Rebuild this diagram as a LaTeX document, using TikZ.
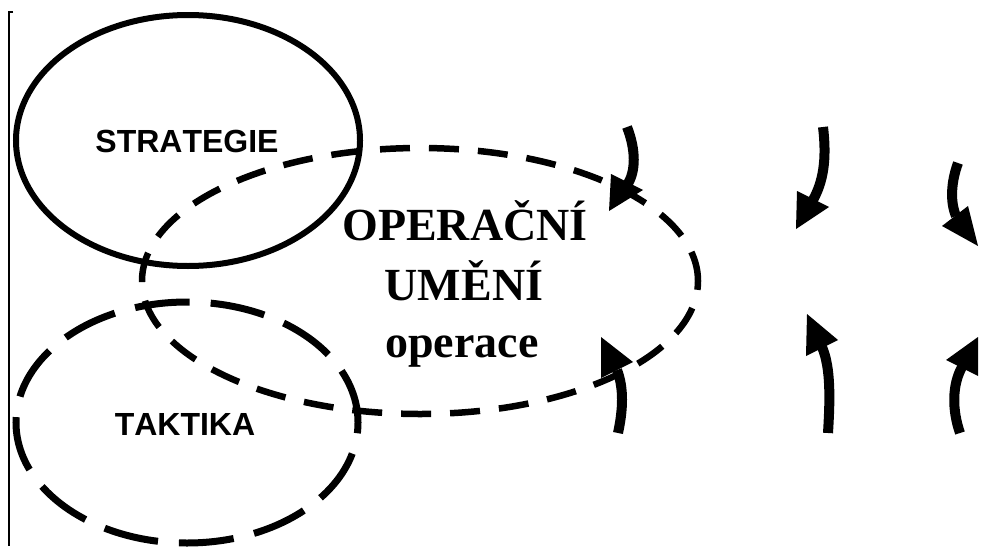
\documentclass[tikz,border=0pt]{standalone}
\usepackage{fontspec}
\setmainfont{Liberation Serif}
\setsansfont{Liberation Sans}[Kerning=Off]
\usetikzlibrary{shapes.geometric}
\begin{document}
\begin{tikzpicture}[x=1pt,y=-1pt,
  solidring/.style={draw, line width=6pt},
  dashring/.style={draw, line width=6.5pt, dash pattern=on 30pt off 19pt},
  longdash/.style={draw, line width=7pt, dash pattern=on 55pt off 21pt},
  sanslabel/.style={font=\sffamily\bfseries\fontsize{32}{40}\selectfont, inner sep=0pt},
  seriflabel/.style={font=\bfseries\fontsize{46}{55}\selectfont, inner sep=0pt, anchor=base},
  shaft/.style={line width=10pt},
  head/.style={fill=black},
  frameline/.style={line width=2.5pt}]
\useasboundingbox (0,0) rectangle (1003,546);
\fill[white] (0,0) rectangle (1003,546);

% left frame fragment
\coordinate (ftop) at (9,12);
\coordinate (fbot) at (9,546);
\coordinate (ftick) at (13,12);
\draw[frameline] (ftick) -- (ftop) -- (fbot);

% ellipses
\coordinate (sc) at (188,140.5);
\coordinate (tc) at (187,422.5);
\coordinate (oc) at (420,281);
\draw[solidring] (sc) ellipse [x radius=172pt, y radius=125.5pt];
\draw[longdash] (tc) ellipse [x radius=171pt, y radius=120.5pt];
\draw[dashring] (oc) ellipse [x radius=278pt, y radius=133pt];

% labels
\node[sanslabel] (strat) at (187,141) {STRATEGIE};
\node[sanslabel] (takt) at (185,424) {TAKTIKA};
\node[seriflabel] (op1) at (465,240) {OPERAČNÍ};
\node[seriflabel] (op2) at (464,300) {UMĚNÍ};
\node[seriflabel] (op3) at (462,357) {operace};

% top arrows (pointing down)
\coordinate (t1s) at (627,127);
\coordinate (t1e) at (627,185);
\draw[shaft] (t1s) .. controls (636,150) and (636,172) .. (t1e);
\fill[head] (611,174) -- (643,190) -- (609,211) -- cycle;

\coordinate (t2s) at (823,127);
\coordinate (t2e) at (813,200);
\draw[shaft] (t2s) .. controls (827,160) and (823,182) .. (t2e);
\fill[head] (797,191) -- (829,207) -- (796,229) -- cycle;

\coordinate (t3s) at (958,163);
\coordinate (t3e) at (956,216);
\draw[shaft] (t3s) .. controls (951,182) and (950,202) .. (t3e);
\fill[head] (942,226) -- (968,206) -- (978,246) -- cycle;

% bottom arrows (pointing up)
\coordinate (b1s) at (618,433);
\coordinate (b1e) at (617,370);
\draw[shaft] (b1s) .. controls (623,410) and (624,388) .. (b1e);
\fill[head] (601,378) -- (633,362) -- (601,337) -- cycle;

\coordinate (b2s) at (828,433);
\coordinate (b2e) at (822,347);
\draw[shaft] (b2s) .. controls (830,400) and (831,368) .. (b2e);
\fill[head] (806,356) -- (838,340) -- (807,314) -- cycle;

\coordinate (b3s) at (960,433);
\coordinate (b3e) at (962,367);
\draw[shaft] (b3s) .. controls (952,410) and (952,385) .. (b3e);
\fill[head] (946,360) -- (978,376) -- (978,337) -- cycle;
\end{tikzpicture}
\end{document}
